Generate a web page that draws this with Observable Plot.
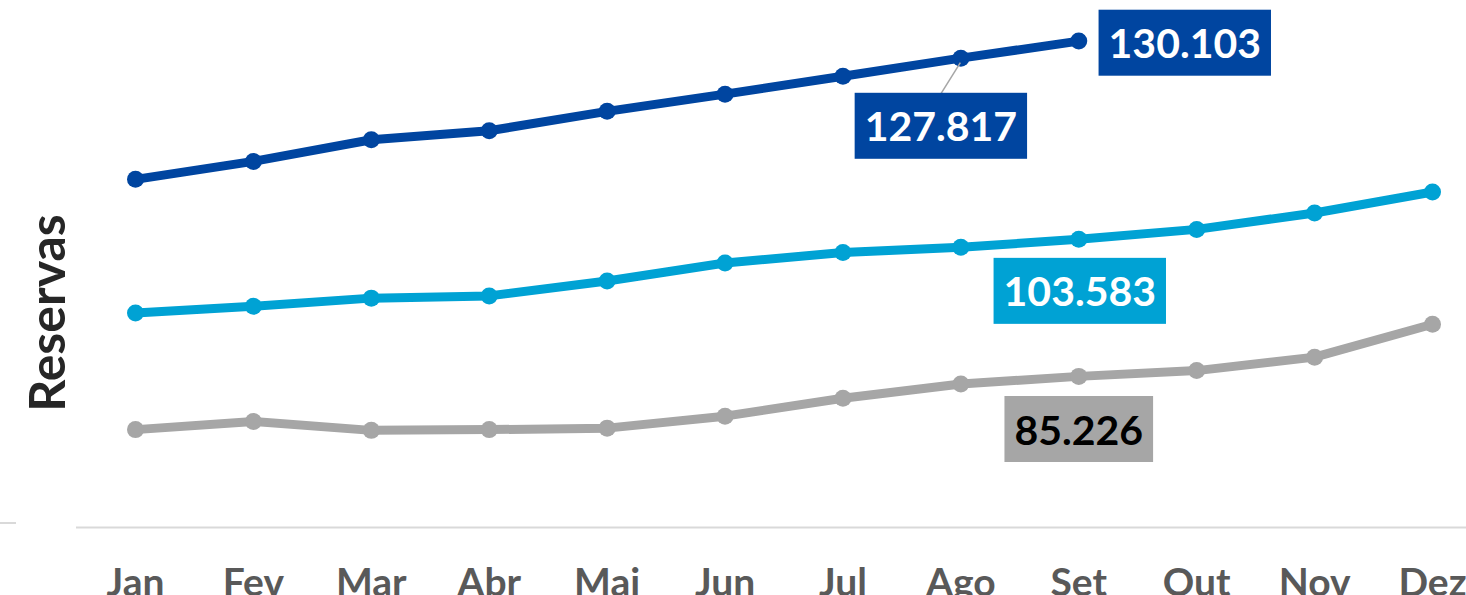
<!DOCTYPE html>
<html><head><meta charset="utf-8">
<script src="https://cdn.jsdelivr.net/npm/d3@7"></script>
<script src="https://cdn.jsdelivr.net/npm/@observablehq/plot@0.6"></script>
<style>
body{margin:0;background:#fff;overflow:hidden}
#chart{position:relative;width:1466px;height:595px}
#stub{position:absolute;left:0;top:522px;width:16px;height:2px;background:#d9d9d9}
</style>
</head><body><div id="chart"><div id="stub"></div></div>
<script>
const months = ["Jan","Fev","Mar","Abr","Mai","Jun","Jul","Ago","Set","Out","Nov","Dez"];
const seriesNames = ["Série A","Série B","Série C"];
const seriesColors = ["#0045A0","#00A2D4","#A6A6A6"];
const valuesA = [111.6, 114.0, 116.9, 118.1, 120.7, 123.0, 125.4, 127.817, 130.103];
const valuesB = [93.7, 94.6, 95.7, 96.0, 98.0, 100.4, 101.8, 102.5, 103.583, 104.9, 107.1, 109.9];
const valuesC = [78.1, 79.2, 78.0, 78.1, 78.3, 79.9, 82.3, 84.2, 85.226, 86.0, 87.8, 92.2];
const labelSeries = ["Série A","Série A","Série B","Série C"];
const labelMonths = ["Set","Ago","Set","Set"];
const labelValues = [130.103, 127.817, 103.583, 85.226];
const labelTexts = ["130.103","127.817","103.583","85.226"];
const yTitle = "Reservas";

const rows = [];
[valuesA, valuesB, valuesC].forEach((vals, s) => {
  vals.forEach((v, i) => rows.push({series: seriesNames[s], month: months[i], value: v}));
});
const labels = labelTexts.map((t, i) => ({series: labelSeries[i], month: labelMonths[i], value: labelValues[i], text: t}));

// presentation (offsets / text colors) kept separate from data
const labelStyle = [
  {dx: 106, dy: 4, fill: "white"},
  {dx: -20, dy: 70, fill: "white"},
  {dx: 1, dy: 54, fill: "white"},
  {dx: 0, dy: 55, fill: "black"}
];

const font = "Lato, 'Open Sans', sans-serif";

const plot = Plot.plot({
  width: 1466, height: 595,
  marginLeft: 135, marginRight: 34, marginTop: 4, marginBottom: 68,
  style: {fontFamily: font, background: "white", overflow: "visible"},
  x: {type: "point", domain: months, padding: 0, round: false},
  y: {domain: [65, 135], axis: null},
  color: {domain: seriesNames, range: seriesColors},
  marks: [
    Plot.ruleY([65], {stroke: "#d9d9d9", strokeWidth: 2, insetLeft: -59, insetRight: -34}),
    Plot.axisX({tickSize: 0, tickPadding: 41, fontSize: 39, fontWeight: "bold", fill: "#595959", label: null}),
    Plot.line(rows, {x: "month", y: "value", z: "series", stroke: "series", strokeWidth: 9, strokeLinejoin: "round", strokeLinecap: "round"}),
    Plot.dot(rows, {x: "month", y: "value", fill: "series", r: 8.5}),
    Plot.text([yTitle], {frameAnchor: "left", textAnchor: "middle", rotate: -90, dx: -87, dy: 47, fontSize: 50, fontWeight: "bold", fill: "#262626"}),
    ...labels.map((d, i) => Plot.text([d], {
      x: "month", y: "value", text: "text",
      dx: labelStyle[i].dx, dy: labelStyle[i].dy,
      fill: labelStyle[i].fill, fontSize: 41, fontWeight: "bold"
    }))
  ]
});
document.getElementById("chart").appendChild(plot);

// Backgrounds for value labels and leader line
const xs = plot.scale("x"), ys = plot.scale("y");
const colorOf = s => seriesColors[seriesNames.indexOf(s)];
const allTexts = Array.from(plot.querySelectorAll("text"));
labels.forEach((d, i) => {
  const t = allTexts.find(el => el.textContent === d.text);
  if (!t) return;
  const bb = t.getBBox();
  const rect = document.createElementNS("http://www.w3.org/2000/svg", "rect");
  const cy = bb.y + bb.height / 2;
  rect.setAttribute("x", bb.x - 10);
  rect.setAttribute("width", bb.width + 20);
  rect.setAttribute("y", cy - 33);
  rect.setAttribute("height", 66);
  rect.setAttribute("fill", colorOf(d.series));
  if (t.getAttribute("transform")) rect.setAttribute("transform", t.getAttribute("transform"));
  t.parentNode.insertBefore(rect, t);
  if (i === 1) {
    const px = xs.apply(d.month), py = ys.apply(d.value);
    const line = document.createElementNS("http://www.w3.org/2000/svg", "line");
    line.setAttribute("x1", px);
    line.setAttribute("y1", py + 5);
    line.setAttribute("x2", px + labelStyle[i].dx);
    line.setAttribute("y2", py + labelStyle[i].dy - 33);
    line.setAttribute("stroke", "#A6A6A6");
    line.setAttribute("stroke-width", 1.5);
    const g = t.parentNode;
    g.parentNode.insertBefore(line, g);
  }
});
</script>
</body></html>
